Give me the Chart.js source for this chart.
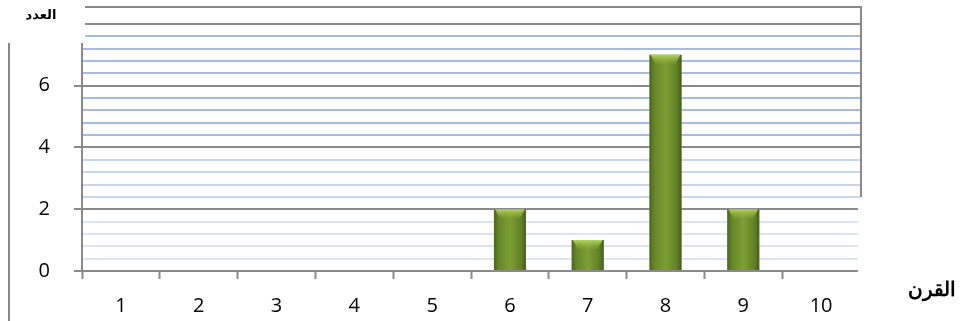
<!DOCTYPE html>
<html>
<head>
<meta charset="utf-8">
<script src="https://cdn.jsdelivr.net/npm/chart.js@4"></script>
<style>
  html, body { margin: 0; padding: 0; background: #fff; }
  #wrap { width: 963px; height: 321px; position: relative; }
</style>
</head>
<body>
<div id="wrap"><canvas id="barChart" width="963" height="321"></canvas></div>
<script>
// data
const centuries = ['1', '2', '3', '4', '5', '6', '7', '8', '9', '10'];
const counts = [0, 0, 0, 0, 0, 2, 1, 7, 2, 0];
const yTickLabels = [0, 2, 4, 6];
const yTitle = 'العدد';
const xTitle = 'القرن';

const yMax = 8.55;
const majorStep = 2;
const minorStep = 0.4;

function isMajor(v) {
    return Math.abs(v / majorStep - Math.round(v / majorStep)) < 1e-6;
}

// gradient + bevel on each bar, drawn over the library's bar elements
const barShade = {
    id: 'barShade',
    afterDatasetsDraw(chart) {
        const ctx = chart.ctx;
        chart.getDatasetMeta(0).data.forEach(bar => {
            const h = bar.base - bar.y;
            if (h <= 0) return;
            const l = bar.x - bar.width / 2, r = bar.x + bar.width / 2;
            const g = ctx.createLinearGradient(l, 0, r, 0);
            g.addColorStop(0, '#4a661b');
            g.addColorStop(0.15, '#668729');
            g.addColorStop(0.5, '#7c9e33');
            g.addColorStop(0.85, '#628127');
            g.addColorStop(1, '#445e17');
            ctx.save();
            ctx.fillStyle = g;
            ctx.fillRect(l, bar.y, r - l, h);
            // top bevel highlight
            const bh = Math.min(9, h * 0.5);
            const vg = ctx.createLinearGradient(0, bar.y, 0, bar.y + bh);
            vg.addColorStop(0, '#b5d35e');
            vg.addColorStop(1, 'rgba(140,178,60,0.2)');
            ctx.fillStyle = vg;
            ctx.beginPath();
            ctx.moveTo(l + 1, bar.y);
            ctx.lineTo(r - 1, bar.y);
            ctx.lineTo(r - 6, bar.y + bh);
            ctx.lineTo(l + 6, bar.y + bh);
            ctx.closePath();
            ctx.fill();
            ctx.restore();
        });
    }
};

// frame pieces and the two axis titles in their white boxes
const frame = {
    id: 'frame',
    afterDraw(chart) {
        const ctx = chart.ctx;
        const a = chart.chartArea;
        ctx.save();
        ctx.strokeStyle = '#8a8a8a';
        ctx.lineWidth = 2;
        // right edge of plot
        ctx.beginPath();
        ctx.moveTo(a.right + 1, a.top - 1);
        ctx.lineTo(a.right + 1, 197);
        ctx.stroke();
        // outer left edge
        ctx.beginPath();
        ctx.moveTo(9, 43);
        ctx.lineTo(9, 321);
        ctx.stroke();

        ctx.fillStyle = '#ffffff';
        ctx.fillRect(0, 0, 85, 43);
        ctx.fillRect(a.right - 2, 198, 963 - a.right + 2, 123);

        ctx.fillStyle = '#000';
        ctx.font = 'bold 13px "DejaVu Sans", sans-serif';
        ctx.textAlign = 'center';
        ctx.textBaseline = 'middle';
        ctx.fillText(yTitle, 41, 16);
        ctx.font = 'bold 20px "Liberation Sans", Arial, sans-serif';
        ctx.fillText(xTitle, 932, 290);
        ctx.restore();
    }
};

function initChart() {
    const ctx = document.getElementById('barChart').getContext('2d');
    new Chart(ctx, {
        type: 'bar',
        data: {
            labels: centuries,
            datasets: [{
                data: counts,
                backgroundColor: '#6a8a2a',
                borderWidth: 0,
                barPercentage: 0.41,
                categoryPercentage: 1
            }]
        },
        options: {
            responsive: false,
            animation: false,
            layout: { padding: { left: 0, right: 103, top: 7, bottom: 0 } },
            plugins: { legend: { display: false }, tooltip: { enabled: false } },
            scales: {
                x: {
                    grid: {
                        drawOnChartArea: false,
                        drawTicks: true,
                        tickLength: 8,
                        tickWidth: 2,
                        tickColor: '#8a8a8a',
                        offset: true
                    },
                    border: { color: '#8a8a8a', width: 2 },
                    ticks: {
                        color: '#000',
                        padding: 15,
                        font: { family: '"Open Sans", sans-serif', size: 20 },
                        maxRotation: 0
                    },
                    afterFit(scale) {
                        scale.height = 50;
                        scale.paddingLeft = 0;
                        scale.paddingRight = 0;
                    }
                },
                y: {
                    min: 0,
                    max: yMax,
                    grid: {
                        tickLength: 8,
                        lineWidth: 2,
                        tickWidth: 2,
                        color(c) {
                            const v = c.tick.value;
                            if (v >= yMax - 1e-6) return '#8a8a8a';
                            if (v > 8 + 1e-6) return 'rgba(0,0,0,0)';
                            if (isMajor(v)) return '#8a8a8a';
                            if (v < 2) return '#dbe5f4';
                            if (v < 4) return '#c6d6ef';
                            return '#a4bde6';
                        },
                        tickColor(c) {
                            const v = c.tick.value;
                            return isMajor(v) && v <= 8 ? '#8a8a8a' : 'rgba(0,0,0,0)';
                        }
                    },
                    border: { color: '#8a8a8a', width: 2 },
                    ticks: {
                        stepSize: minorStep,
                        autoSkip: false,
                        padding: 24,
                        color: '#000',
                        font: { family: '"Open Sans", sans-serif', size: 20 },
                        callback(v) {
                            return yTickLabels.some(t => Math.abs(t - v) < 1e-6) ? String(Math.round(v)) : '';
                        }
                    },
                    afterFit(scale) {
                        scale.width = 82;
                        scale.paddingTop = 0;
                        scale.paddingBottom = 0;
                    }
                }
            }
        },
        plugins: [barShade, frame]
    });
}

window.onload = () => {
    initChart();
};
</script>
</body>
</html>
